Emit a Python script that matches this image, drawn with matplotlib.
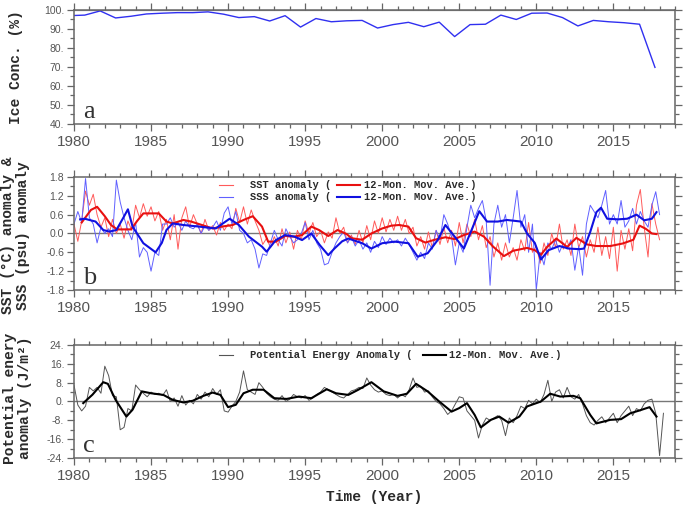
import numpy as np
import matplotlib
matplotlib.use('Agg')
import matplotlib.pyplot as plt
from matplotlib.ticker import MultipleLocator, FormatStrFormatter

plt.rcParams['font.family'] = 'Liberation Sans'
plt.rcParams['axes.unicode_minus'] = False
plt.rcParams['lines.solid_joinstyle'] = 'round'

# --- panel a: annual (september) ice concentration ---
ice_years = np.arange(1979.7, 2018.0, 1.0)
ice_conc = [97.0, 97.3, 99.5, 95.8, 96.7, 97.9, 98.3, 98.6, 98.6, 99.0,
            97.8, 96.0, 96.5, 94.2, 97.0, 91.0, 95.5, 93.8, 94.3, 94.5,
            90.5, 92.3, 93.5, 91.2, 93.6, 86.0, 92.3, 92.5, 97.3, 95.0,
            98.3, 98.4, 96.0, 91.6, 94.5, 93.8, 93.3, 92.5, 69.8]

# --- panel b: SST / SSS anomalies (read roughly every 3 months) ---
raw_t = np.arange(1980.0, 2018.05, 0.25)
sst_raw = [0.3, -0.25, 0.4, 1.35,  0.9, 1.25, 0.6, 0.2,  0.5, -0.1, 0.45, 0.0,
           0.3, -0.15, 0.4, 0.1,  0.9, 0.5, 0.95, 0.55,  0.85, 0.4, 0.7, 0.1,
           0.45, -0.2, 0.6, -0.5,  0.5, 0.85, 0.2, 0.6,  0.3, 0.0, 0.45, 0.1,
           0.25, -0.05, 0.35, 0.1,  0.3, 0.15, 0.8, 0.35,  0.85, 0.3, 0.75, 0.4,
           0.1, -0.35, -0.15, -0.45,  -0.1, -0.4, 0.15, -0.3,  0.05, -0.5, 0.1, -0.2,
           0.4, 0.0, 0.35, -0.1,  0.1, -0.3, 0.05, -0.15,  0.5, 0.0, 0.2, -0.3,
           -0.05, -0.35, 0.1, -0.3,  0.25, -0.2, 0.4, 0.0,  0.5, 0.05, 0.45, 0.1,
           0.55, 0.1, 0.45, 0.0,  0.2, -0.4, -0.1, -0.5,  0.05, -0.45, 0.1, -0.35,
           0.2, -0.3, 0.1, -0.4,  0.35, -0.3, 0.3, -0.1,  0.45, -0.2, 0.25, -0.45,
           -0.1, -0.75, -0.3, -0.85,  -0.3, -0.75, -0.45, -0.85,  -0.2, -0.55, 0.35, -0.6,
           -0.4, -0.95, -0.3, -0.7,  0.0, -0.45, 0.3, -0.5,  -0.2, -0.7, 0.3, -0.45,
           -0.1, -0.75, -0.2, -0.6,  0.2, -0.7, -0.1, -0.8,  0.2, -1.2, 0.1, -0.5,
           0.15, -0.55, 0.9, 1.4,  0.2, -0.75, 0.95, 0.3,  -0.2]
sss_raw = [0.3, 0.7, 0.35, 1.75,  0.5, 0.3, -0.3, 0.2,  0.0, 0.15, -0.1, 1.7,
           1.0, 0.5, 0.1, -0.2,  0.35, -0.75, -0.45, -0.6,  -1.2, -0.6, -0.7, 0.3,
           0.3, 0.5, 0.2, 0.35,  0.1, 0.4, 0.2, 0.15,  0.3, 0.0, 0.25, 0.1,
           0.2, 0.4, 0.1, 0.65,  0.85, 0.3, 0.7, 0.1,  0.0, -0.3, -0.2, -0.5,
           -1.1, -0.65, -0.7, -0.3,  0.1, -0.2, -0.4, 0.15,  -0.1, -0.3, -0.2, 0.0,
           0.35, -0.2, 0.1, -0.3,  -0.5, -1.0, -0.95, -0.6,  -0.3, -0.1, 0.05, -0.3,
           -0.1, -0.4, -0.2, -0.5,  -0.3, -0.6, -0.25, -0.45,  -0.1, -0.35, -0.15, -0.3,
           -0.2, -0.4, -0.15, -0.35,  -0.6, -0.85, -0.6, -0.8,  -0.3, -0.5, 0.1, -0.2,
           0.6, 0.3, -0.1, -1.0,  -0.3, -0.6, 0.2, 0.9,  0.5, 0.8, 1.05, 0.4,
           -1.65, 0.3, 0.9, 0.2,  0.6, -0.3, 0.5, 1.37,  0.2, 0.6, -0.6, 0.3,
           -1.8, -0.6, -1.0, -0.3,  -0.5, -0.2, -0.6, -0.3,  -0.5, -0.2, -1.17, -0.4,
           -1.33, 0.3, 0.9, 0.7,  0.5, 0.9, 1.37, 0.3,  0.6, 0.3, 1.05, 0.2,
           0.4, 0.8, 0.3, 0.7,  0.4, 0.2, 0.9, 1.33,  0.6]

sst_ma_t = [1980.5, 1980.8, 1981.1, 1981.5, 1982.0, 1982.4, 1982.8, 1983.7, 1984.1, 1984.5,
            1985.5, 1986.0, 1986.4, 1987.1, 1987.6, 1988.3, 1989.0, 1989.6, 1990.3, 1991.0,
            1991.6, 1992.2, 1992.6, 1993.1, 1993.7, 1994.3, 1994.8, 1995.4, 1995.9, 1996.5,
            1997.1, 1997.7, 1998.0, 1998.7, 1999.3, 2000.0, 2000.6, 2001.1, 2001.7, 2002.2,
            2002.8, 2003.4, 2004.1, 2004.7, 2005.3, 2006.0, 2006.6, 2007.2, 2007.9, 2008.5,
            2009.4, 2009.9, 2010.3, 2010.7, 2011.3, 2012.0, 2012.6, 2013.3, 2013.9, 2014.8,
            2015.6, 2016.3, 2016.7, 2017.1, 2017.5, 2017.8]
sst_ma = [0.35, 0.55, 0.75, 0.85, 0.55, 0.27, 0.13, 0.13, 0.4, 0.64,
          0.64, 0.38, 0.32, 0.43, 0.38, 0.27, 0.16, 0.22, 0.27, 0.43,
          0.55, 0.22, -0.26, -0.26, -0.08, -0.1, -0.05, 0.22, 0.11, -0.08,
          0.11, -0.02, -0.15, -0.2, 0.0, 0.16, 0.25, 0.27, 0.22, -0.15,
          -0.29, -0.2, -0.12, -0.18, -0.05, 0.06, -0.1, -0.42, -0.72, -0.55,
          -0.46, -0.53, -0.68, -0.43, -0.16, -0.43, -0.14, -0.35, -0.4, -0.4,
          -0.32, -0.2, 0.25, 0.15, 0.0, -0.02]

sss_ma_t = [1980.4, 1980.7, 1981.0, 1981.4, 1981.9, 1982.3, 1982.75, 1983.2, 1983.5, 1983.8,
            1984.5, 1985.3, 1985.7, 1986.0, 1986.4, 1987.1, 1988.1, 1989.2, 1990.1, 1990.7,
            1991.35, 1992.2, 1992.5, 1993.1, 1993.7, 1994.3, 1994.8, 1995.4, 1995.95, 1996.5,
            1996.9, 1997.4, 1997.8, 1998.7, 1999.3, 2000.0, 2000.8, 2001.7, 2002.3, 2002.95,
            2003.6, 2004.1, 2004.7, 2005.3, 2005.8, 2006.3, 2006.8, 2007.5, 2008.1, 2009.0,
            2009.4, 2009.9, 2010.3, 2010.8, 2011.5, 2012.1, 2012.8, 2013.1, 2013.5, 2013.9,
            2014.2, 2014.6, 2015.3, 2015.9, 2016.5, 2017.0, 2017.5, 2017.8]
sss_ma = [0.45, 0.47, 0.43, 0.38, 0.11, 0.06, 0.11, 0.5, 0.77, 0.22,
          -0.31, -0.6, -0.3, 0.11, 0.32, 0.27, 0.22, 0.16, 0.47, 0.27,
          -0.1, -0.42, -0.58, -0.21, -0.05, -0.1, -0.21, 0.0, -0.37, -0.69,
          -0.48, -0.25, -0.16, -0.31, -0.48, -0.31, -0.26, -0.31, -0.74, -0.63,
          -0.21, 0.27, -0.1, -0.48, 0.11, 0.71, 0.38, 0.38, 0.43, 0.38,
          0.0, -0.3, -0.83, -0.53, -0.4, -0.48, -0.5, -0.48, 0.05, 0.68,
          0.82, 0.47, 0.45, 0.47, 0.6, 0.42, 0.47, 0.68]

# --- panel c: potential energy anomaly ---
pe_t = np.arange(1980.0, 2018.3, 0.25)
pe_raw = [7, -1.5, -4, -2,  6, 4.5, 6, 3.5,  15, 11, 2.5, 2,  -12, -11, -3, -4,
          7, 5, 3.5, 2,  4, 3, 3.5, 2.5,  5, 0, 1.5, -2,  2.5, -1.5, 0.5, -1,
          3, 1, 4, 2,  5.5, 3, 5, -4,  -4.5, -2, 0, 4,  13, 5, 4, 3,
          8, 6, 3.5, 2,  1, 0.5, 2.5, 0,  1, 3, 2, 1.5,  2.5, 0.5, 1.5, 3,
          4, 6, 5, 4,  3, 2, 1.5, 3,  4.5, 5, 6, 5.5,  10, 7, 5, 4,
          4.5, 3, 2.5, 3,  1.5, 3, 2, 5,  10, 6, 6.5, 4,  4.5, 2, 0, -1,
          -3, -5.5, -4, -1,  2, 1.5, -4, -6,  -8, -15.5, -10, -7,  -8, -7, -6, -8,
          -14.5, -7, -9, -6,  -2, -3, 0.5, -1,  1, -0.5, 3, 9,  0, 4, 5, 1.5,
          6, 2, 1, 3,  -1, -6, -9, -10,  -8, -6.5, -9, -7,  -5, -9, -6, -4,
          -2, -6, -3, -4,  -1, 0.5, 1, -5,  -23, -5]

pe_ma_t = [1980.6, 1981.2, 1981.9, 1982.2, 1982.7, 1983.4, 1983.8, 1984.4, 1985.0, 1985.8,
           1986.4, 1987.1, 1987.7, 1988.4, 1989.0, 1989.5, 1990.0, 1990.5, 1991.0, 1991.6,
           1992.3, 1993.0, 1993.8, 1994.6, 1995.4, 1996.4, 1997.0, 1997.8, 1998.45, 1999.3,
           2000.1, 2001.0, 2001.6, 2002.2, 2002.95, 2003.7, 2004.5, 2005.0, 2005.5, 2006.0,
           2006.4, 2007.05, 2007.6, 2008.2, 2008.9, 2009.4, 2010.3, 2010.9, 2011.55, 2012.4,
           2012.85, 2013.5, 2013.9, 2014.8, 2015.5, 2016.1, 2016.7, 2017.35, 2017.8]
pe_ma = [-0.7, 2.9, 8.2, 7.5, 0.7, -6.4, -3.5, 4.3, 3.5, 2.8,
         0.7, -0.4, 0.3, 2.4, 3.8, 2.8, -2.4, -1.4, 3.5, 5.0,
         5.0, 1.4, 1.1, 2.1, 1.4, 5.2, 3.5, 2.8, 5.0, 8.2,
         4.3, 2.4, 3.3, 7.5, 4.3, 0.0, -4.3, -2.8, -0.7, -5.7,
         -11.0, -7.8, -6.4, -9.0, -6.4, -2.1, 0.0, 3.3, 2.1, 2.4,
         1.4, -5.7, -9.3, -7.8, -7.5, -5.0, -3.8, -2.4, -6.4]

MONO = 'Liberation Mono'
TICK_COL = '#555555'
AX_COL = '#666666'
TXT_COL = '#2a2a2a'


def style_axis(ax, ymin, ymax, major, minor, fmt):
    ax.set_xlim(1980, 2019)
    ax.set_ylim(ymin, ymax)
    ax.xaxis.set_major_locator(MultipleLocator(5))
    ax.xaxis.set_minor_locator(MultipleLocator(1))
    ax.yaxis.set_major_locator(MultipleLocator(major))
    ax.yaxis.set_minor_locator(MultipleLocator(minor))
    ax.yaxis.set_major_formatter(FormatStrFormatter(fmt))
    ax.tick_params(which='both', direction='out', top=True, right=True,
                   color=AX_COL, width=0.9)
    ax.tick_params(which='major', length=5)
    ax.tick_params(which='minor', length=3)
    ax.tick_params(axis='x', labelsize=11, labelcolor=TICK_COL, pad=3)
    ax.tick_params(axis='y', labelsize=7.5, labelcolor=TICK_COL, pad=2)
    for s in ax.spines.values():
        s.set_color(AX_COL)
        s.set_linewidth(1.1)


fig = plt.figure(figsize=(6.85, 5.09), dpi=100)
L, W = 0.108, 0.8774
ax_a = fig.add_axes([L, 0.7564, W, 0.224])
ax_b = fig.add_axes([L, 0.4303, W, 0.222])
ax_c = fig.add_axes([L, 0.1002, W, 0.222])

# panel a
style_axis(ax_a, 40, 100, 10, 5, '%d.')
ax_a.axhline(100, color='#888888', lw=1.6, zorder=1)
ax_a.plot(ice_years, ice_conc, color='#3030f0', lw=1.0)
ax_a.text(0.015, 0.05, 'a', transform=ax_a.transAxes, fontsize=19,
          family='Liberation Serif', color='#333333')

# panel b
style_axis(ax_b, -1.8, 1.8, 0.6, 0.3, '%.1f')
ax_b.axhline(0, color='#777777', lw=1.0, zorder=1)
ax_b.plot(raw_t, sst_raw, color='#ff5a5a', lw=0.7)
ax_b.plot(raw_t, sss_raw, color='#6060ff', lw=0.7)
ax_b.plot(sst_ma_t, sst_ma, color='#e81010', lw=1.5)
ax_b.plot(sss_ma_t, sss_ma, color='#1010e0', lw=1.5)
ax_b.text(0.015, 0.05, 'b', transform=ax_b.transAxes, fontsize=19,
          family='Liberation Serif', color='#333333')
leg_rows = [(0.929, 'SST', '#ff5a5a', '#e81010'), (0.823, 'SSS', '#6060ff', '#1010e0')]
for y, name, thin, thick in leg_rows:
    ax_b.plot([0.241, 0.265], [y, y], color=thin, lw=0.8, transform=ax_b.transAxes)
    ax_b.text(0.293, y, name + ' anomaly (', transform=ax_b.transAxes, va='center',
              fontsize=7.5, family=MONO, weight='bold', color=TXT_COL)
    ax_b.plot([0.438, 0.476], [y, y], color=thick, lw=1.5, transform=ax_b.transAxes)
    ax_b.text(0.483, y, '12-Mon. Mov. Ave.)', transform=ax_b.transAxes, va='center',
              fontsize=7.5, family=MONO, weight='bold', color=TXT_COL)

# panel c
style_axis(ax_c, -24, 24, 8, 4, '%d.')
ax_c.axhline(0, color='#777777', lw=1.0, zorder=1)
ax_c.plot(pe_t, pe_raw, color='#555555', lw=0.7)
ax_c.plot(pe_ma_t, pe_ma, color='black', lw=1.5)
ax_c.text(0.015, 0.05, 'c', transform=ax_c.transAxes, fontsize=19,
          family='Liberation Serif', color='#333333')
ax_c.plot([0.241, 0.265], [0.912, 0.912], color='#555555', lw=0.8, transform=ax_c.transAxes)
ax_c.text(0.293, 0.912, 'Potential Energy Anomaly (', transform=ax_c.transAxes,
          va='center', fontsize=7.5, family=MONO, weight='bold', color=TXT_COL)
ax_c.plot([0.581, 0.619], [0.912, 0.912], color='black', lw=1.5, transform=ax_c.transAxes)
ax_c.text(0.624, 0.912, '12-Mon. Mov. Ave.)', transform=ax_c.transAxes,
          va='center', fontsize=7.5, family=MONO, weight='bold', color=TXT_COL)
ax_c.set_xlabel('Time (Year)', fontsize=10.5, family=MONO, weight='bold',
                color=TXT_COL, labelpad=5)

# y labels
lab = dict(rotation=90, ha='center', va='center', fontsize=10.5, family=MONO,
           weight='bold', color=TXT_COL)
fig.text(0.024, 0.868, 'Ice Conc. (%)', **lab)
fig.text(0.012, 0.538, 'SST (°C) anomaly &', **lab)
fig.text(0.033, 0.538, 'SSS (psu) anomaly', **lab)
fig.text(0.014, 0.218, 'Potential enery', **lab)
fig.text(0.037, 0.218, 'anomaly (J/m²)', **lab)

fig.savefig('out.png', dpi=100)
